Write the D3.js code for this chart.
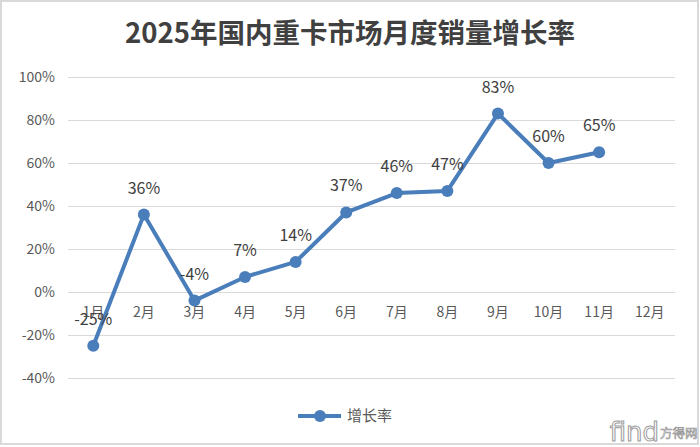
<!DOCTYPE html>
<html><head><meta charset="utf-8">
<script src="https://cdn.jsdelivr.net/npm/d3@7"></script>
<style>html,body{margin:0;padding:0;background:#fff;}svg{display:block;}</style>
</head><body>
<svg id="c" width="700" height="447"></svg>
<script>
const title = "2025年国内重卡市场月度销量增长率";
const categories = ["1月","2月","3月","4月","5月","6月","7月","8月","9月","10月","11月","12月"];
const seriesName = "增长率";
const values = [-25, 36, -4, 7, 14, 37, 46, 47, 83, 60, 65, null];
const yTicks = [-40, -20, 0, 20, 40, 60, 80, 100];

const svg = d3.select("#c");
const font = "'Noto Sans CJK SC','Noto Sans',sans-serif";
const blue = "#4a7ebb";

svg.append("rect").attr("x",1).attr("y",1).attr("width",697).attr("height",443)
  .attr("fill","#fff").attr("stroke","#d9d9d9").attr("stroke-width",2);

svg.append("text").attr("x",350).attr("y",43).attr("text-anchor","middle")
  .attr("font-family",font).attr("font-weight","bold").attr("font-size",27.5)
  .attr("fill","#404040").text(title);

const x = d3.scaleBand().domain(categories).range([68,675]);
const y = d3.scaleLinear().domain([-40,100]).range([378,77]);

// gridlines
svg.append("g").selectAll("line").data(yTicks).join("line")
  .attr("x1",68).attr("x2",675)
  .attr("y1",d=>Math.round(y(d))+0.5).attr("y2",d=>Math.round(y(d))+0.5)
  .attr("stroke","#d9d9d9").attr("stroke-width",1);

// y axis labels
const yAxis = d3.axisLeft(y).tickValues(yTicks).tickFormat(d=>d+"%").tickSize(0).tickPadding(0);
const ya = svg.append("g").attr("transform","translate(55,0)").call(yAxis);
ya.select(".domain").remove();
ya.selectAll("text").attr("font-family",font).attr("font-size",14).attr("fill","#595959");

// x axis labels at 0 line
const xAxis = d3.axisBottom(x).tickSize(0).tickPadding(0);
const xa = svg.append("g").attr("transform",`translate(0,${y(0)+15})`).call(xAxis);
xa.select(".domain").remove();
xa.selectAll("text").attr("font-family",font).attr("font-size",14).attr("fill","#595959");

// line
const pts = categories.map((c,i)=>({c,v:values[i]})).filter(d=>d.v!=null);
const cx = d=>x(d.c)+x.bandwidth()/2;
svg.append("path").datum(pts)
  .attr("d",d3.line().x(cx).y(d=>y(d.v)))
  .attr("fill","none").attr("stroke",blue).attr("stroke-width",4).attr("stroke-linejoin","round");
svg.append("g").selectAll("circle").data(pts).join("circle")
  .attr("cx",cx).attr("cy",d=>y(d.v)).attr("r",6).attr("fill",blue);

// data labels
svg.append("g").selectAll("text").data(pts).join("text")
  .attr("x",cx).attr("y",d=>y(d.v)-21).attr("text-anchor","middle")
  .attr("font-family",font).attr("font-size",16).attr("fill","#404040")
  .text(d=>d.v+"%");

// legend
const lg = svg.append("g");
lg.append("line").attr("x1",298).attr("x2",341).attr("y1",416).attr("y2",416)
  .attr("stroke",blue).attr("stroke-width",4);
lg.append("circle").attr("cx",320).attr("cy",416).attr("r",6).attr("fill",blue);
lg.append("text").attr("x",347).attr("y",421).attr("font-family",font).attr("font-size",15)
  .attr("fill","#595959").text(seriesName);

// watermark
const wm = svg.append("g");
wm.append("text").attr("x",659).attr("y",441).attr("text-anchor","end")
  .attr("font-family","'DejaVu Sans',sans-serif").attr("font-size",26)
  .attr("fill","#fff").attr("stroke","#9a9a9a").attr("stroke-width",1).text("find");
wm.append("text").attr("x",660).attr("y",438)
  .attr("font-family",font).attr("font-size",12.5)
  .attr("fill","#fff").attr("stroke","#9a9a9a").attr("stroke-width",0.7).text("方得网");
</script>
</body></html>
